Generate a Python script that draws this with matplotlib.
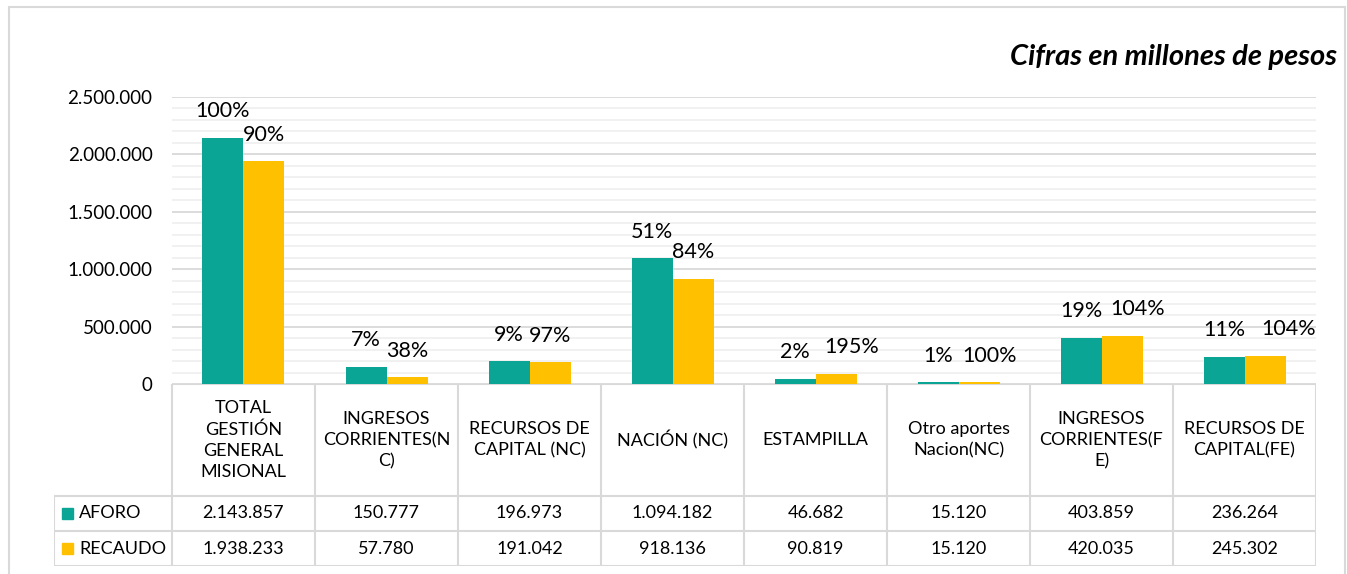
import matplotlib
matplotlib.use("Agg")
import matplotlib.pyplot as plt
import numpy as np
from matplotlib.patches import Rectangle

plt.rcParams['font.family'] = ['Lato', 'DejaVu Sans']

categories = ["TOTAL\nGESTIÓN\nGENERAL\nMISIONAL", "INGRESOS\nCORRIENTES(N\nC)",
              "RECURSOS DE\nCAPITAL (NC)", "NACIÓN (NC)", "ESTAMPILLA",
              "Otro aportes\nNacion(NC)", "INGRESOS\nCORRIENTES(F\nE)",
              "RECURSOS DE\nCAPITAL(FE)"]
aforo = [2143857, 150777, 196973, 1094182, 46682, 15120, 403859, 236264]
recaudo = [1938233, 57780, 191042, 918136, 90819, 15120, 420035, 245302]
aforo_pct = ["100%", "7%", "9%", "51%", "2%", "1%", "19%", "11%"]
recaudo_pct = ["90%", "38%", "97%", "84%", "195%", "100%", "104%", "104%"]
series_names = ["AFORO", "RECAUDO"]
yticks = [0, 500000, 1000000, 1500000, 2000000, 2500000]

# manual horizontal nudges (pixels) of the RECAUDO labels, as in the original
recaudo_label_dx = [0, 0, 0, 0, 16, 11, 16, 24]

c_aforo = "#0BA596"
c_recaudo = "#FFC000"
grid_major = "#D9D9D9"
grid_minor = "#F0F0F0"
FS = 13
FS_TICK = 13.5
FS_PCT = 15.5

W, H = 1347, 574
fig = plt.figure(figsize=(W / 100, H / 100), dpi=100)

# outer border
fig.patches.append(Rectangle((9 / W, -0.05), (1345 - 9) / W, (574 - 7) / H + 0.05,
                             transform=fig.transFigure, fill=False,
                             edgecolor="#D9D9D9", linewidth=1.5))

left, right = 172, 1316
ax = fig.add_axes([left / W, (H - 384) / H, (right - left) / W, (384 - 97) / H])
n = len(categories)
x = np.arange(n) + 0.5
bw = 41 / 143
ax.bar(x - bw / 2, aforo, width=bw, color=c_aforo, zorder=3)
ax.bar(x + bw / 2, recaudo, width=bw, color=c_recaudo, zorder=3)
for xi, v, t in zip(x - bw / 2, aforo, aforo_pct):
    ax.annotate(t, (xi, v), xytext=(0, 19), textcoords="offset points",
                ha="center", va="center", fontsize=FS_PCT)
for xi, v, t, dx in zip(x + bw / 2, recaudo, recaudo_pct, recaudo_label_dx):
    ax.annotate(t, (xi, v), xytext=(dx * 0.72, 19), textcoords="offset points",
                ha="center", va="center", fontsize=FS_PCT)

ax.set_xlim(0, n)
ax.set_ylim(0, 2500000)
ax.set_yticks(yticks)
ax.set_yticklabels([f"{v:,}".replace(",", ".") for v in yticks], fontsize=FS_TICK)
ax.set_yticks(np.arange(0, 2500001, 100000), minor=True)
ax.tick_params(axis="y", which="both", length=0, pad=14)
ax.set_xticks([])
ax.grid(axis="y", which="major", color=grid_major, linewidth=1.3, zorder=0)
ax.grid(axis="y", which="minor", color=grid_minor, linewidth=1.3, zorder=0)
for s in ax.spines.values():
    s.set_visible(False)

fig.text(1337 / W, 1 - 57 / H, "Cifras en millones de pesos", ha="right", va="center",
         fontsize=21, fontweight="bold", fontstyle="italic")

# data table
tl = 54
colw = (right - left) / n
tax = fig.add_axes([tl / W, (H - 566) / H, (right - tl) / W, (566 - 384) / H])
hx = -(left - tl) / colw
tax.set_xlim(hx, n)
tax.set_ylim(182, 0)
tax.axis("off")
lc = grid_major
lw = 1.5
hdr, r1, r2 = 112, 147, 182
for i in range(n + 1):
    tax.plot([i, i], [0, r2], color=lc, lw=lw, solid_capstyle="butt")
tax.plot([hx, hx], [hdr, r2], color=lc, lw=lw)
tax.plot([0, n], [0, 0], color=lc, lw=lw)
for yy in (hdr, r1, r2):
    tax.plot([hx, n], [yy, yy], color=lc, lw=lw)
for i, c in enumerate(categories):
    tax.text(i + 0.5, hdr / 2, c, ha="center", va="center", fontsize=FS,
             linespacing=1.4)
rows = [aforo, recaudo]
cols = [c_aforo, c_recaudo]
for r, (vals, name, col) in enumerate(zip(rows, series_names, cols)):
    yc = hdr + 17.5 + 35 * r
    for i, v in enumerate(vals):
        tax.text(i + 0.5, yc, f"{v:,}".replace(",", "."), ha="center", va="center",
                 fontsize=FS)
    tax.add_patch(Rectangle((hx + 8 / colw, yc - 5.5), 11 / colw, 11, color=col))
    tax.text(hx + 25 / colw, yc, name, ha="left", va="center", fontsize=FS)

fig.savefig("out.png", dpi=100)
